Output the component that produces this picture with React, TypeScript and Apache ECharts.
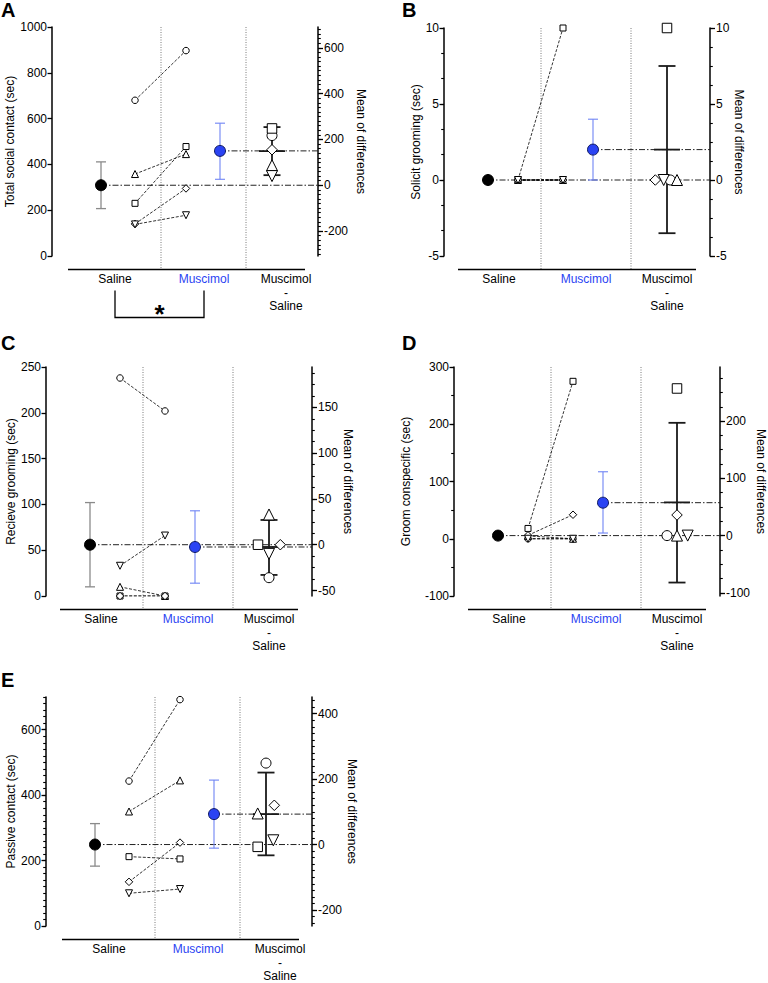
import React, { useEffect, useRef } from "react";
import * as echarts from "echarts";

const FONT = "'Liberation Sans', Arial, Helvetica, sans-serif";
const BLUE = "#2a43f3";
const BLUE_BAR = "#6f84f4";

const subjects = ["circle", "triangle", "square", "diamond", "invTriangle"];
const groupLabels = ["Saline", "Muscimol", "Muscimol\n-\nSaline"];
const rightAxisName = "Mean of differences";

// ---------- Panel A
const aTitle = "Total social contact (sec)";
const aSaline = [680, 358, 230, 140, 138];
const aMuscimol = [897, 445, 478, 295, 178];
const aSalineMean = 309;
const aSalineErr = [207, 411];
const aMuscimolMean = 459;
const aMuscimolErr = [335, 580];
const aDiff = [217, 87, 248, 155, 40];
const aDiffMean = 149;
const aDiffErr = [44, 254];
const aLeftRange = [0, 1000];
const aLeftTicks = [0, 200, 400, 600, 800, 1000];
const aRightTicks = [-200, 0, 200, 400, 600];

// ---------- Panel B
const bTitle = "Solicit grooming (sec)";
const bSaline = [0, 0, 0, 0, 0];
const bMuscimol = [0, 0, 10, 0, 0];
const bSalineMean = 0;
const bSalineErr = [0, 0];
const bMuscimolMean = 2;
const bMuscimolErr = [0, 4];
const bDiff = [0, 0, 10, 0, 0];
const bDiffMean = 2;
const bDiffErr = [-3.5, 7.5];
const bLeftRange = [-5, 10];
const bLeftTicks = [-5, 0, 5, 10];
const bRightTicks = [-5, 0, 5, 10];

// ---------- Panel C
const cTitle = "Recieve grooming (sec)";
const cSaline = [238, 10, 0, 0, 33];
const cMuscimol = [202, 0, 0, 0, 66];
const cSalineMean = 56;
const cSalineErr = [10, 102];
const cMuscimolMean = 53.5;
const cMuscimolErr = [14, 93];
const cDiff = [-36, 33, 0, 0, -10];
const cDiffMean = -2.5;
const cDiffErr = [-33, 27];
const cLeftRange = [0, 250];
const cLeftTicks = [0, 50, 100, 150, 200, 250];
const cRightTicks = [-50, 0, 50, 100, 150];

// ---------- Panel D
const dTitle = "Groom conspecific (sec)";
const dSaline = [0, 5, 18, 6, 0];
const dMuscimol = [0, 0, 275, 42, 0];
const dSalineMean = 5.5;
const dSalineErr = [3, 8];
const dMuscimolMean = 63;
const dMuscimolErr = [10, 117];
const dDiff = [0, 0, 257, 36, 0];
const dDiffMean = 58;
const dDiffErr = [-82, 197];
const dLeftRange = [-100, 300];
const dLeftTicks = [-100, 0, 100, 200, 300];
const dRightTicks = [-100, 0, 100, 200];

// ---------- Panel E
const eTitle = "Passive contact (sec)";
const eSaline = [443, 350, 212, 135, 100];
const eMuscimol = [692, 445, 205, 255, 113];
const eSalineMean = 249;
const eSalineErr = [183, 313];
const eMuscimolMean = 342;
const eMuscimolErr = [238, 446];
const eDiff = [249, 95, -7, 120, 13];
const eDiffMean = 93;
const eDiffErr = [-33, 220];
const eLeftRange = [0, 700];
const eLeftTicks = [0, 200, 400, 600];
const eRightTicks = [-200, 0, 200, 400];

// ---------- layout (pixels from the left axis)
const LAY_WIDE = { salMean: 49, salInd: 83, musInd: 134, musMean: 168, diff: 220, dividers: [109, 194], labels: [63, 152, 234], line: [16, 253] };
const LAY_NARROW = { salMean: 44, salInd: 74, musInd: 119, musMean: 149, diff: 223, dividers: [97, 187], labels: [55, 142, 223], line: [14, 252] };
const AXIS_DROP = 13.5;

const SYM: Record<string, [string, number]> = {
  circle: ["circle", 0],
  triangle: ["triangle", 0],
  square: ["rect", 0],
  diamond: ["diamond", 0],
  invTriangle: ["triangle", 180],
};
const IND_SIZE: Record<string, number> = { circle: 6.5, triangle: 7, square: 6, diamond: 7.5, invTriangle: 7 };
const DIFF_SIZE: Record<string, number> = { circle: 10, triangle: 11, square: 9.5, diamond: 10.5, invTriangle: 11 };

const panels = [
  {
    letter: "A", letterPos: [1, 0], box: { left: 52, top: 27, width: 266, height: 229 }, lay: LAY_WIDE,
    leftName: aTitle, gaps: [34, 37], leftRange: aLeftRange, leftTicks: aLeftTicks, rightTicks: aRightTicks,
    leftMinor: 0, rightMinor: 20,
    saline: aSaline, muscimol: aMuscimol, salineMean: aSalineMean, salineErr: aSalineErr,
    muscimolMean: aMuscimolMean, muscimolErr: aMuscimolErr, diff: aDiff, diffMean: aDiffMean, diffErr: aDiffErr,
    jitter: [0, 0, 0, 0, 0], bracket: true,
  },
  {
    letter: "B", letterPos: [402, 0], box: { left: 444, top: 28, width: 266, height: 228 }, lay: LAY_NARROW,
    leftName: bTitle, gaps: [21, 22], leftRange: bLeftRange, leftTicks: bLeftTicks, rightTicks: bRightTicks,
    leftMinor: 5 / 3, rightMinor: 1.25,
    saline: bSaline, muscimol: bMuscimol, salineMean: bSalineMean, salineErr: bSalineErr,
    muscimolMean: bMuscimolMean, muscimolErr: bMuscimolErr, diff: bDiff, diffMean: bDiffMean, diffErr: bDiffErr,
    jitter: [3.3, 10, 0, -11.7, -3.3], bracket: false,
  },
  {
    letter: "C", letterPos: [1, 333], box: { left: 46, top: 367, width: 266, height: 229 }, lay: LAY_NARROW,
    leftName: cTitle, gaps: [28, 29], leftRange: cLeftRange, leftTicks: cLeftTicks, rightTicks: cRightTicks,
    leftMinor: 0, rightMinor: 12.5,
    saline: cSaline, muscimol: cMuscimol, salineMean: cSalineMean, salineErr: cSalineErr,
    muscimolMean: cMuscimolMean, muscimolErr: cMuscimolErr, diff: cDiff, diffMean: cDiffMean, diffErr: cDiffErr,
    jitter: [0, 0, -11, 11.3, 0], bracket: false,
  },
  {
    letter: "D", letterPos: [402, 333], box: { left: 454, top: 367, width: 266, height: 229 }, lay: LAY_NARROW,
    leftName: dTitle, gaps: [42, 35], leftRange: dLeftRange, leftTicks: dLeftTicks, rightTicks: dRightTicks,
    leftMinor: 50, rightMinor: 25,
    saline: dSaline, muscimol: dMuscimol, salineMean: dSalineMean, salineErr: dSalineErr,
    muscimolMean: dMuscimolMean, muscimolErr: dMuscimolErr, diff: dDiff, diffMean: dDiffMean, diffErr: dDiffErr,
    jitter: [-10, 0, 0, 0, 10.7], bracket: false,
  },
  {
    letter: "E", letterPos: [1, 670], box: { left: 46, top: 697, width: 266, height: 229 }, lay: LAY_WIDE,
    leftName: eTitle, gaps: [28, 34], leftRange: eLeftRange, leftTicks: eLeftTicks, rightTicks: eRightTicks,
    leftMinor: 20, rightMinor: 20,
    saline: eSaline, muscimol: eMuscimol, salineMean: eSalineMean, salineErr: eSalineErr,
    muscimolMean: eMuscimolMean, muscimolErr: eMuscimolErr, diff: eDiff, diffMean: eDiffMean, diffErr: eDiffErr,
    jitter: [0, -8.3, -8.3, 8.3, 7.3], bracket: false,
  },
];

function stepsIn(min: number, max: number, step: number): number[] {
  const out: number[] = [];
  if (!step) return out;
  const start = Math.ceil((min - 1e-9) / step);
  for (let k = start; k * step <= max + 1e-9; k++) out.push(+(k * step).toFixed(6));
  return out;
}

function errorBars(xi: number, yi: number, data: number[][], color: string, width: number, capHalf: number, meanHalf = 0, z = 3) {
  return {
    type: "custom",
    xAxisIndex: xi,
    yAxisIndex: yi,
    silent: true,
    clip: false,
    z,
    data,
    renderItem: (params: any, api: any) => {
      const x = api.value(0);
      const a = api.coord([x, api.value(1)]);
      const b = api.coord([x, api.value(2)]);
      const style = { stroke: color, lineWidth: width };
      const seg = (x1: number, y1: number, x2: number, y2: number) => ({ type: "line", shape: { x1, y1, x2, y2 }, style });
      const children: any[] = [
        seg(a[0], a[1], b[0], b[1]),
        seg(a[0] - capHalf, a[1], a[0] + capHalf, a[1]),
        seg(b[0] - capHalf, b[1], b[0] + capHalf, b[1]),
      ];
      if (meanHalf) {
        const m = api.coord([x, api.value(3)]);
        children.push(seg(m[0] - meanHalf, m[1], m[0] + meanHalf, m[1]));
      }
      return { type: "group", children };
    },
  };
}

function buildOption() {
  const grid: any[] = [];
  const xAxis: any[] = [];
  const yAxis: any[] = [];
  const series: any[] = [];
  const title: any[] = [];
  const txt = { fontSize: 12, fontFamily: FONT, color: "#000" };
  const plain = (v: number) => String(v);

  panels.forEach((p, i) => {
    const L = p.lay;
    const W = p.box.width;
    title.push({
      text: p.letter, left: p.letterPos[0], top: p.letterPos[1], padding: 0,
      textStyle: { fontSize: 20, fontWeight: "bold", fontFamily: FONT, color: "#000" },
    });
    grid.push({ ...p.box, containLabel: false, outerBoundsMode: "none" });
    xAxis.push({
      type: "value", gridIndex: i, min: 0, max: W, offset: AXIS_DROP,
      axisLine: { show: false, onZero: false }, axisTick: { show: false }, splitLine: { show: false },
      axisLabel: {
        customValues: L.labels, margin: 3, ...txt, lineHeight: 13.5,
        formatter: (v: number) => {
          const k = L.labels.findIndex((l) => Math.abs(l - v) < 1e-6);
          if (k === 1) return `{m|${groupLabels[1]}}`;
          return k >= 0 ? groupLabels[k] : "";
        },
        rich: { m: { color: BLUE, fontSize: 12, fontFamily: FONT } },
      },
    });
    const [lMin, lMax] = p.leftRange;
    const rMin = lMin - p.salineMean;
    const rMax = lMax - p.salineMean;
    const axisLine = { show: true, onZero: false, lineStyle: { color: "#000", width: 1.5 } };
    yAxis.push({
      type: "value", gridIndex: i, position: "left", min: lMin, max: lMax, axisLine,
      axisTick: { show: true, customValues: p.leftTicks, length: 4.5, lineStyle: { color: "#000", width: 1.3 } },
      axisLabel: { customValues: p.leftTicks, margin: 5, formatter: plain, ...txt },
      splitLine: { show: false },
      name: p.leftName, nameLocation: "middle", nameGap: p.gaps[0], nameTextStyle: txt,
    });
    yAxis.push({
      type: "value", gridIndex: i, position: "right", min: rMin, max: rMax, axisLine,
      axisTick: { show: true, customValues: p.rightTicks, length: 5, lineStyle: { color: "#000", width: 1.3 } },
      axisLabel: { customValues: p.rightTicks, margin: 6, formatter: plain, ...txt },
      splitLine: { show: false },
      name: rightAxisName, nameLocation: "middle", nameRotate: -90, nameGap: p.gaps[1], nameTextStyle: txt,
    });
    const lMinorVals = stepsIn(lMin, lMax, p.leftMinor);
    const rMinorVals = stepsIn(rMin, rMax, p.rightMinor);
    yAxis.push({
      type: "value", gridIndex: i, position: "left", min: lMin, max: lMax,
      axisLine: { show: false, onZero: false }, axisLabel: { show: false }, splitLine: { show: false },
      axisTick: { show: lMinorVals.length > 0, customValues: lMinorVals.length ? lMinorVals : [lMin], length: 2.8, lineStyle: { color: "#000", width: 1.1 } },
    });
    yAxis.push({
      type: "value", gridIndex: i, position: "right", min: rMin, max: rMax,
      axisLine: { show: false, onZero: false }, axisLabel: { show: false }, splitLine: { show: false },
      axisTick: { show: rMinorVals.length > 0, customValues: rMinorVals.length ? rMinorVals : [rMin], length: 2.8, lineStyle: { color: "#000", width: 1.1 } },
    });

    const yl = 4 * i;
    const yr = 4 * i + 1;
    const dashDot = { color: "#222", width: 1, type: [6, 2, 1.5, 2] };
    series.push({
      type: "line", xAxisIndex: i, yAxisIndex: yl, silent: true, symbol: "none", z: 1,
      lineStyle: dashDot, data: [[L.salMean, p.salineMean], [W, p.salineMean]],
    });
    series.push({
      type: "line", xAxisIndex: i, yAxisIndex: yl, silent: true, symbol: "none", z: 1,
      lineStyle: dashDot, data: [[L.musMean, p.muscimolMean], [W, p.muscimolMean]],
    });
    subjects.forEach((s, k) => {
      series.push({
        type: "line", xAxisIndex: i, yAxisIndex: yl, silent: true, z: 2,
        symbol: SYM[s][0], symbolRotate: SYM[s][1], symbolSize: IND_SIZE[s], showAllSymbol: true,
        itemStyle: { color: "#fff", borderColor: "#000", borderWidth: 1, opacity: 1 },
        lineStyle: { color: "#000", width: 0.8, type: [3, 1.6] },
        data: [[L.salInd, p.saline[k]], [L.musInd, p.muscimol[k]]],
      });
    });
    series.push(errorBars(i, yl, [[L.salMean, p.salineErr[0], p.salineErr[1]]], "#8a8a8a", 1.3, 5));
    series.push(errorBars(i, yl, [[L.musMean, p.muscimolErr[0], p.muscimolErr[1]]], BLUE_BAR, 1.1, 5));
    series.push({
      type: "scatter", xAxisIndex: i, yAxisIndex: yl, silent: true, z: 4, symbol: "circle", symbolSize: 11,
      itemStyle: { color: "#000", borderColor: "#000", borderWidth: 1, opacity: 1 },
      data: [[L.salMean, p.salineMean]],
    });
    series.push({
      type: "scatter", xAxisIndex: i, yAxisIndex: yl, silent: true, z: 4, symbol: "circle", symbolSize: 11,
      itemStyle: { color: BLUE, borderColor: "#101a60", borderWidth: 1, opacity: 1 },
      data: [[L.musMean, p.muscimolMean]],
    });
    series.push(errorBars(i, yr, [[L.diff, p.diffErr[0], p.diffErr[1], p.diffMean]], "#1a1a1a", 1.8, 8.5, 13, 3));
    series.push({
      type: "scatter", xAxisIndex: i, yAxisIndex: yr, silent: true, z: 5,
      itemStyle: { color: "#fff", borderColor: "#000", borderWidth: 1, opacity: 1 },
      data: subjects.map((s, k) => ({
        value: [L.diff + p.jitter[k], p.diff[k]],
        symbol: SYM[s][0], symbolRotate: SYM[s][1], symbolSize: DIFF_SIZE[s],
      })),
    });
  });

  return { animation: false, backgroundColor: "#fff", title, grid, xAxis, yAxis, series };
}

export default function App() {
  const ref = useRef<HTMLDivElement>(null);
  useEffect(() => {
    if (!ref.current) return;
    const chart = echarts.init(ref.current, undefined, { renderer: "svg" });
    chart.setOption(buildOption() as any);
    const g: any[] = [];
    panels.forEach((p, i) => {
      const px = (x: number) => chart.convertToPixel({ xAxisIndex: i } as any, x) as unknown as number;
      const py = (y: number) => chart.convertToPixel({ yAxisIndex: 4 * i } as any, y) as unknown as number;
      const top = py(p.leftRange[1]);
      const base = py(p.leftRange[0]) + AXIS_DROP;
      p.lay.dividers.forEach((d) => {
        const x = px(d);
        g.push({ type: "line", silent: true, z: 0, shape: { x1: x, y1: top, x2: x, y2: base }, style: { stroke: "#7a7a7a", lineWidth: 1, lineDash: [1, 1.5] } });
      });
      g.push({ type: "line", silent: true, shape: { x1: px(p.lay.line[0]), y1: base, x2: px(p.lay.line[1]), y2: base }, style: { stroke: "#000", lineWidth: 1.5 } });
      if (p.bracket) {
        const x1 = px(p.lay.labels[0]);
        const x2 = px(p.lay.labels[1]);
        const yb = base + 48;
        const st = { stroke: "#000", lineWidth: 1.3 };
        g.push({ type: "polyline", silent: true, shape: { points: [[x1, base + 21], [x1, yb], [x2, yb], [x2, base + 21]] }, style: { ...st, fill: "none" } });
        g.push({ type: "text", silent: true, x: (x1 + x2) / 2, y: base + 44, style: { text: "*", fontSize: 26, fontWeight: "bold", fontFamily: FONT, fill: "#000", align: "center", verticalAlign: "middle" } });
      }
    });
    chart.setOption({ graphic: { elements: g } } as any);
    return () => chart.dispose();
  }, []);
  return <div ref={ref} style={{ position: "absolute", left: 0, top: 0, width: 768, height: 983 }} />;
}
